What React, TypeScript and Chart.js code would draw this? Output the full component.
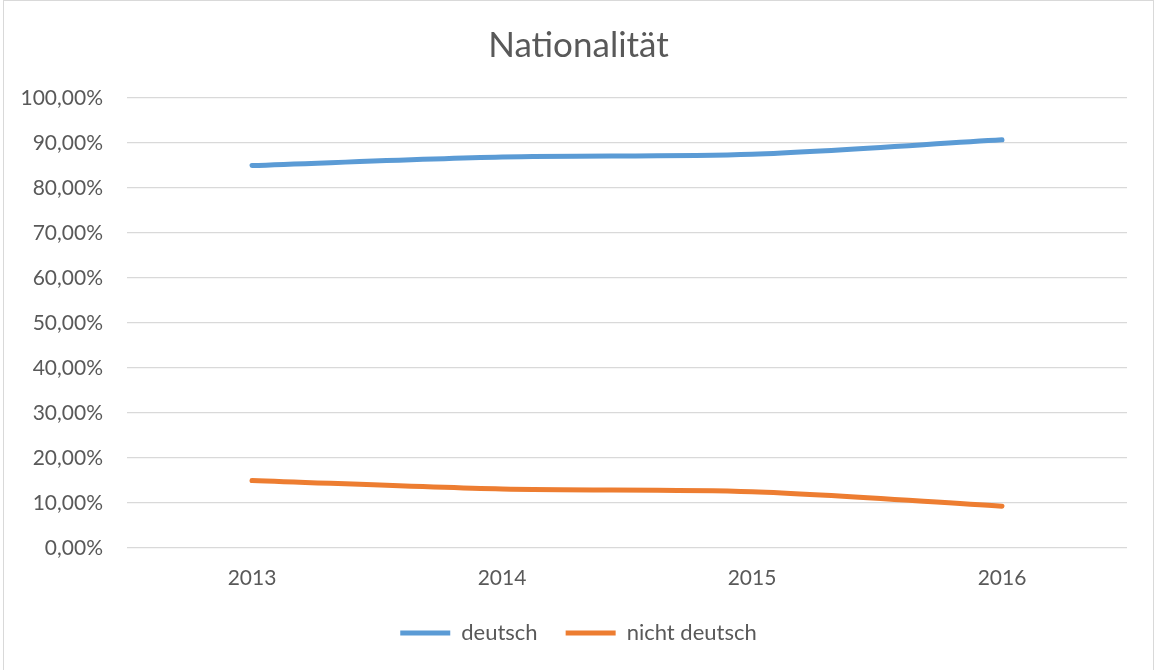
import React, { useEffect, useRef } from "react";
import { Chart, registerables } from "chart.js";

Chart.register(...registerables);

const categories = ["2013", "2014", "2015", "2016"];
const deutsch = [85.0, 86.9, 87.5, 90.7];
const nichtDeutsch = [15.0, 13.1, 12.5, 9.3];
const seriesNames = ["deutsch", "nicht deutsch"];
const chartTitle = "Nationalität";

const FONT = "Lato, 'Open Sans', sans-serif";
const TEXT = "#595959";

export default function App() {
  const ref = useRef<HTMLCanvasElement | null>(null);

  useEffect(() => {
    document.body.style.margin = "0";
    const canvas = ref.current;
    if (!canvas) return;
    const chart = new Chart(canvas, {
      type: "line",
      data: {
        labels: categories,
        datasets: [
          {
            label: seriesNames[0],
            data: deutsch,
            borderColor: "#5B9BD5",
            backgroundColor: "#5B9BD5",
            borderWidth: 5,
            borderCapStyle: "round",
            borderJoinStyle: "round",
            pointRadius: 0,
            pointStyle: "line",
            tension: 0.3,
            yAxisID: "y",
          },
          {
            label: seriesNames[1],
            data: nichtDeutsch,
            borderColor: "#ED7D31",
            backgroundColor: "#ED7D31",
            borderWidth: 5,
            borderCapStyle: "round",
            borderJoinStyle: "round",
            pointRadius: 0,
            pointStyle: "line",
            tension: 0.3,
            yAxisID: "y",
          },
        ],
      },
      options: {
        responsive: false,
        animation: false,
        devicePixelRatio: 1,
        layout: { padding: { left: 0, right: 0, top: 0, bottom: 16 } },
        plugins: {
          title: {
            display: true,
            text: chartTitle,
            color: TEXT,
            font: { family: FONT, size: 35, weight: "normal" },
            padding: { top: 25, bottom: 31 },
          },
          legend: {
            display: true,
            position: "bottom",
            labels: {
              usePointStyle: true,
              pointStyleWidth: 50,
              boxHeight: 22,
              padding: 28,
              color: TEXT,
              font: { family: FONT, size: 22 },
            },
          },
          tooltip: { enabled: false },
        },
        scales: {
          x: {
            offset: true,
            grid: { display: false, drawTicks: false },
            border: { display: false },
            ticks: {
              color: TEXT,
              font: { family: FONT, size: 21 },
              padding: 18,
            },
            afterFit: (s: any) => {
              s.height = 46;
            },
          },
          y: {
            min: 0,
            max: 100,
            position: "left",
            grid: { color: "#d9d9d9", lineWidth: 1.3, drawTicks: false },
            border: { display: false },
            ticks: {
              stepSize: 10,
              color: TEXT,
              font: { family: FONT, size: 21 },
              padding: 24,
              callback: (v: any) => Number(v).toFixed(2).replace(".", ",") + "%",
            },
            afterFit: (s: any) => {
              s.width = 127;
            },
          },
          y2: {
            position: "right",
            display: true,
            grid: { display: false, drawTicks: false },
            border: { display: false },
            ticks: { display: false },
            afterFit: (s: any) => {
              s.width = 30;
            },
          },
        },
      },
    });
    return () => chart.destroy();
  }, []);

  return (
    <div
      style={{
        position: "fixed",
        left: 0,
        top: 0,
        width: 1157,
        height: 670,
        overflow: "hidden",
        background: "#fff",
      }}
    >
      <canvas
        ref={ref}
        width={1157}
        height={670}
        style={{ position: "absolute", left: 0, top: 0, width: 1157, height: 670 }}
      />
      <div
        style={{
          position: "absolute",
          left: 3,
          top: 0,
          width: 1151,
          height: 672,
          border: "1px solid #d9d9d9",
          boxSizing: "border-box",
          pointerEvents: "none",
        }}
      />
    </div>
  );
}
